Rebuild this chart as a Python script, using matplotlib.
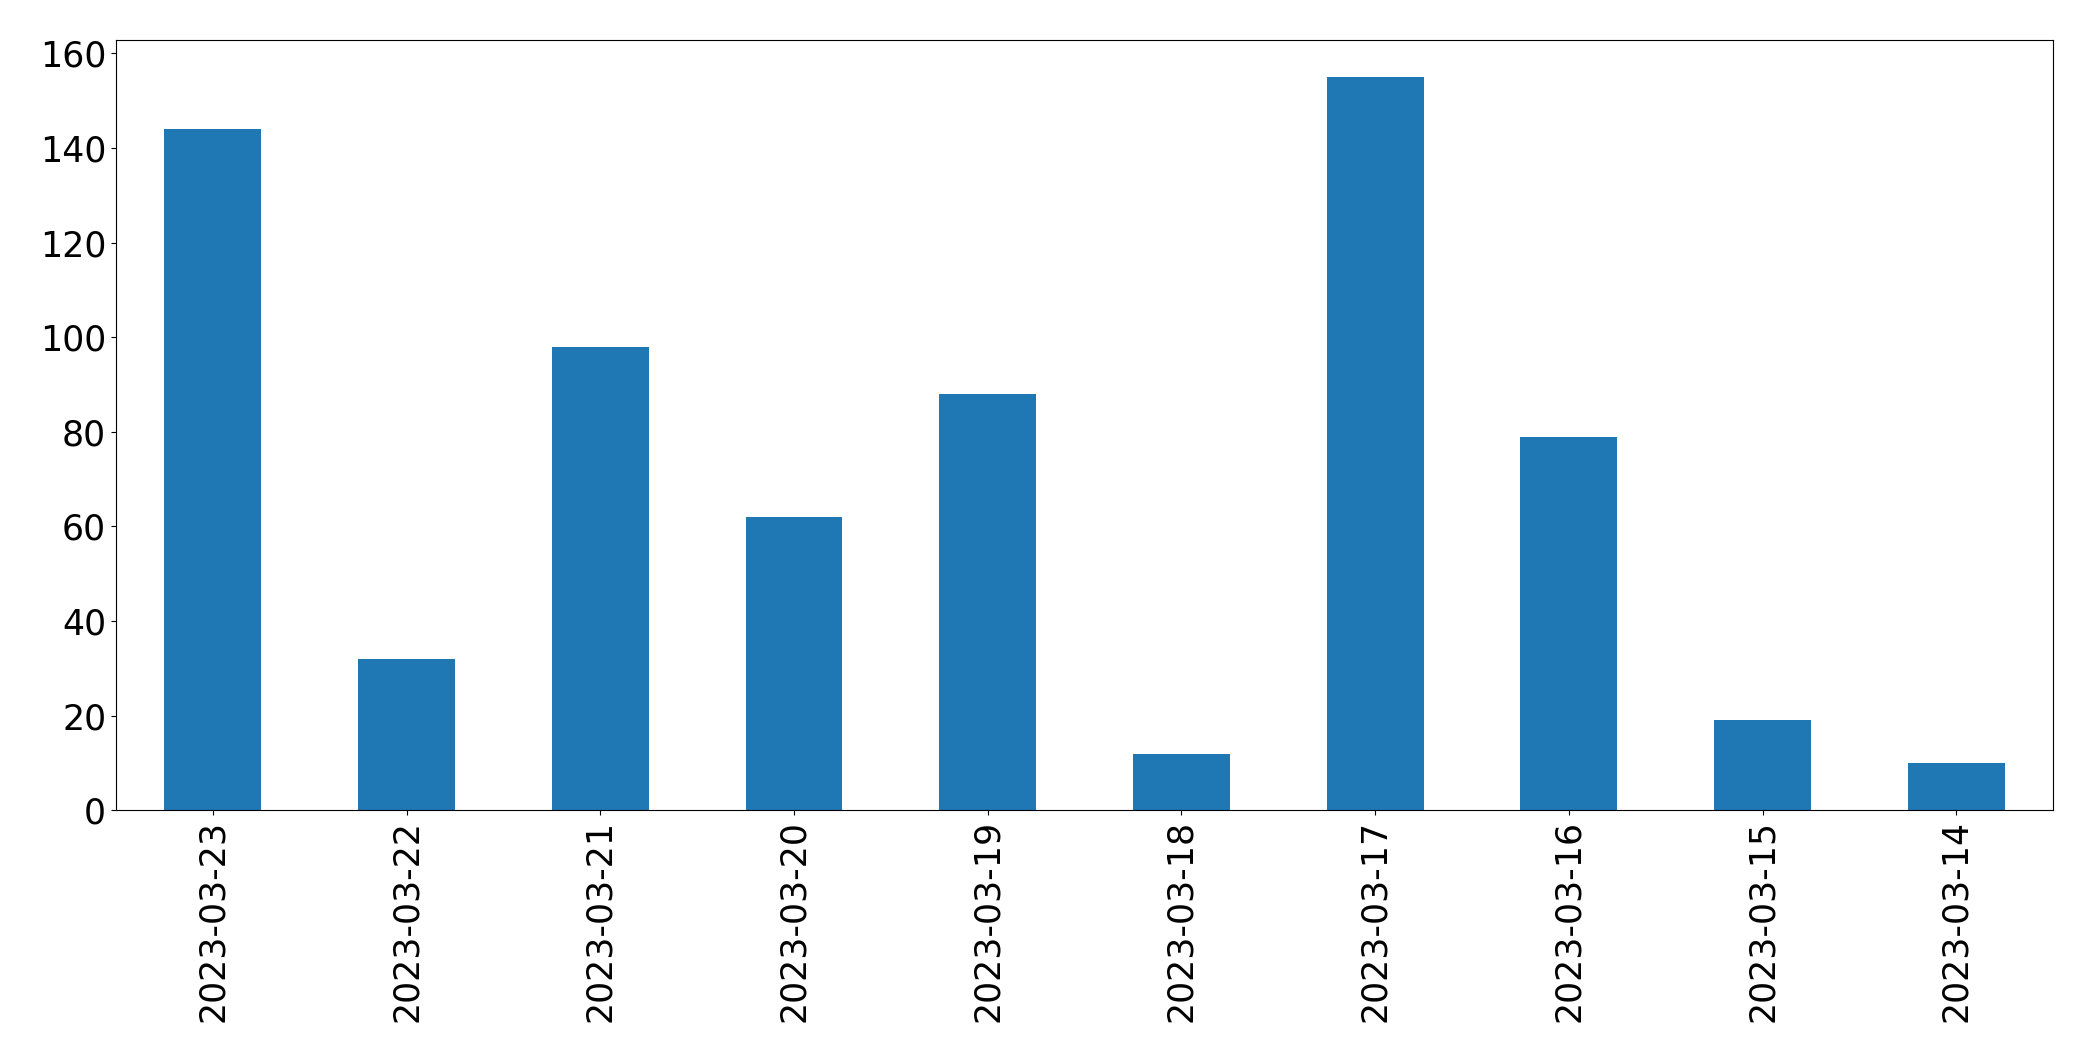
import matplotlib
matplotlib.use("Agg")
import matplotlib.pyplot as plt
import numpy as np
import pandas as pd

dates = ["2023-03-23", "2023-03-22", "2023-03-21", "2023-03-20", "2023-03-19",
         "2023-03-18", "2023-03-17", "2023-03-16", "2023-03-15", "2023-03-14"]
counts = [144, 32, 98, 62, 88, 12, 155, 79, 19, 10]

plt.rcParams["font.size"] = 25

fig = plt.figure(figsize=(20.93, 10.62), dpi=100)
ax = fig.add_subplot(1, 1, 1)
s = pd.Series(counts, index=dates)
s.plot(kind="bar", ax=ax, color="#1f77b4")
ax.set_xlabel("")
fig.subplots_adjust(left=0.0554, right=0.981, bottom=0.237, top=0.962)

fig.savefig("out.png", dpi=100)
